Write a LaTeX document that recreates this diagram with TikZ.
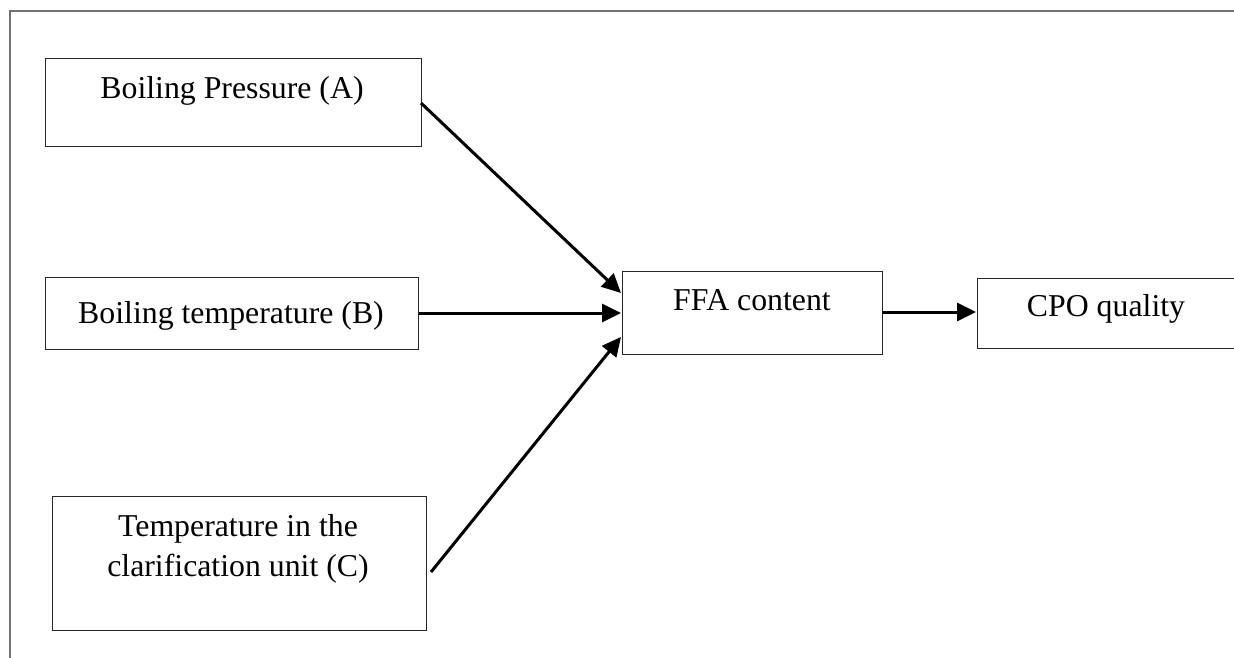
\documentclass[tikz,border=0pt]{standalone}
\usepackage{fontspec}
\setmainfont{Liberation Serif}
\usetikzlibrary{arrows.meta}
\begin{document}
\begin{tikzpicture}[x=1pt,y=-1pt,
  box/.style={draw=black!85,line width=1pt,inner sep=0pt,rectangle},
  lbl/.style={anchor=base,inner sep=0pt,font=\fontsize{31.8}{40}\selectfont},
  conn/.style={line width=3pt,-{Triangle[length=19pt,width=18pt]}}]
\useasboundingbox (0,0) rectangle (1234,658);
% outer frame
\draw[draw=black!55,line width=1.2pt] (10,658) -- (10,11) -- (1236,11);
% boxes
\node[box,minimum width=376pt,minimum height=88pt] (A) at (233,103) {};
\node[box,minimum width=373pt,minimum height=72pt] (B) at (231.5,313) {};
\node[box,minimum width=374pt,minimum height=134pt] (C) at (239,563) {};
\node[box,minimum width=260pt,minimum height=83pt] (F) at (752,312.5) {};
\node[box,minimum width=262pt,minimum height=70pt] (Q) at (1108,313) {};
% labels
\node[lbl] (tA) at (232,99) {Boiling Pressure (A)};
\node[lbl] (tB) at (231,323) {Boiling temperature (B)};
\node[lbl] (tC1) at (238,536) {Temperature in the};
\node[lbl] (tC2) at (238,576) {clarification unit (C)};
\node[lbl] (tF) at (752,310) {FFA content};
\node[lbl] (tQ) at (1106,316) {CPO quality};
% connectors
\coordinate (a1) at (421,103);
\coordinate (a2) at (621,293);
\coordinate (b2) at (621,313);
\coordinate (c1) at (431,572);
\coordinate (c2) at (621,337);
\coordinate (f1) at (882,312);
\coordinate (q1) at (976,312);
\draw[conn] (a1) -- (a2);
\draw[conn] (B.east) -- (b2);
\draw[conn] (c1) -- (c2);
\draw[conn] (f1) -- (q1);
\end{tikzpicture}
\end{document}
